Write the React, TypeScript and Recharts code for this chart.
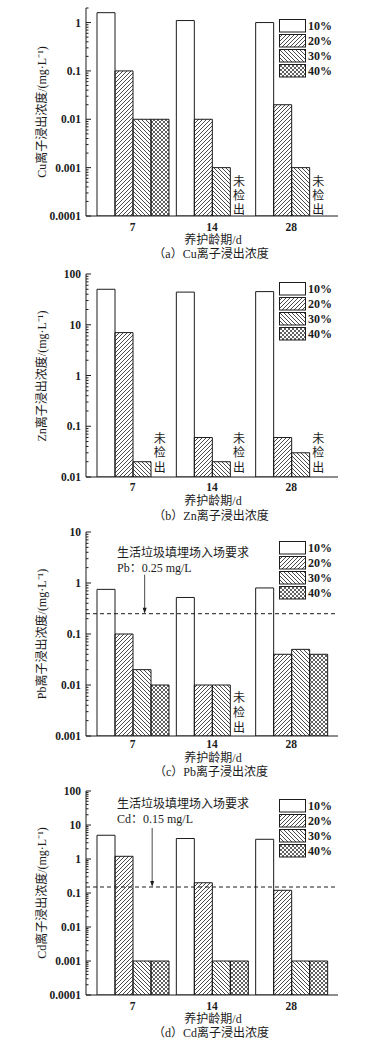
import React from "react";
import { BarChart, Bar, XAxis, YAxis, Legend, ReferenceLine, ReferenceDot } from "recharts";

// curing age (d)
const days = ["7", "14", "28"];
const seriesNames = ["10%", "20%", "30%", "40%"];

// Cu leaching concentration, mg/L (null = not detected)
const cu10 = [1.6, 1.1, 1.0];
const cu20 = [0.1, 0.01, 0.02];
const cu30 = [0.01, 0.001, 0.001];
const cu40 = [0.01, null, null];

// Zn
const zn10 = [50, 44, 45];
const zn20 = [7, 0.06, 0.06];
const zn30 = [0.02, 0.02, 0.03];
const zn40 = [null, null, null];

// Pb
const pb10 = [0.75, 0.52, 0.8];
const pb20 = [0.1, 0.01, 0.04];
const pb30 = [0.02, 0.01, 0.05];
const pb40 = [0.01, null, 0.04];

// Cd
const cd10 = [5, 4, 3.8];
const cd20 = [1.2, 0.2, 0.12];
const cd30 = [0.001, 0.001, 0.001];
const cd40 = [0.001, 0.001, 0.001];

// y tick labels
const cuTicks = [0.0001, 0.001, 0.01, 0.1, 1];
const znTicks = [0.01, 0.1, 1, 10, 100];
const pbTicks = [0.001, 0.01, 0.1, 1, 10];
const cdTicks = [0.0001, 0.001, 0.01, 0.1, 1, 10, 100];

// landfill limits
const pbLimit = 0.25;
const cdLimit = 0.15;

const W = 379;
const PLOT_LEFT = 86;
const PLOT_RIGHT = 338;
const INK = "#1c1c1c";
const SERIF = '"Liberation Serif", "Times New Roman", serif';
const CJK = '"Liberation Serif", "Noto Sans CJK SC", serif';

const keys = ["s10", "s20", "s30", "s40"];

const buildRows = (a: any[], b: any[], c: any[], d: any[]) =>
  days.map((day, i) => ({ day, s10: a[i], s20: b[i], s30: c[i], s40: d[i] }));

const withMinor = (majors: number[], max: number) => {
  const out: number[] = [];
  majors.forEach((m) => {
    out.push(m);
    for (let k = 2; k <= 9; k++) if (m * k <= max * 1.0001) out.push(m * k);
  });
  return out;
};

const Txt = ({ x, y, children, anchor = "middle", size = 12, weight = "normal", font = CJK }: any) => (
  <div
    style={{
      position: "absolute",
      left: x,
      top: y,
      transform: anchor === "middle" ? "translate(-50%,-50%)" : "translate(0,-50%)",
      fontSize: size,
      fontFamily: font,
      fontWeight: weight,
      whiteSpace: "nowrap",
      lineHeight: 1,
      color: INK,
    }}
  >
    {children}
  </div>
);

const Patterns = ({ id }: { id: string }) => (
  <defs>
    <pattern id={`${id}-p20`} patternUnits="userSpaceOnUse" width={4} height={4}>
      <path d="M-1,1 l2,-2 M0,4 l4,-4 M3,5 l2,-2" stroke={INK} strokeWidth={0.8} />
    </pattern>
    <pattern id={`${id}-p30`} patternUnits="userSpaceOnUse" width={4} height={4}>
      <path d="M-1,3 l2,2 M0,0 l4,4 M3,-1 l2,2" stroke={INK} strokeWidth={0.8} />
    </pattern>
    <pattern id={`${id}-p40`} patternUnits="userSpaceOnUse" width={4} height={4}>
      <path d="M-1,1 l2,-2 M0,4 l4,-4 M3,5 l2,-2 M-1,3 l2,2 M0,0 l4,4 M3,-1 l2,2" stroke={INK} strokeWidth={0.7} />
    </pattern>
  </defs>
);

const fillsFor = (id: string) => ["#ffffff", `url(#${id}-p20)`, `url(#${id}-p30)`, `url(#${id}-p40)`];

const Panel = ({ cfg }: any) => {
  const { id, top, bottom, domain, majors, rows, yLabel, caption, tickBase, axisLabelY, captionY, legendTop, limit, ann } = cfg;
  const padTop = 10;
  const xh = 20;
  const h = bottom - top + padTop + xh;
  const chartTop = top - padTop;
  const fills = fillsFor(id);
  const ticks = withMinor(majors, domain[1]);

  const YTick = (p: any) => {
    const v = p.payload.value;
    const major = majors.some((m: number) => Math.abs(m - v) < m * 1e-6);
    return (
      <g>
        <line x1={PLOT_LEFT} x2={PLOT_LEFT + (major ? 5 : 2.5)} y1={p.y} y2={p.y} stroke={INK} strokeWidth={1} />
        {major && (
          <text x={PLOT_LEFT - 5} y={p.y} dy={4} textAnchor="end" fontFamily={SERIF} fontSize={11.5} fontWeight="bold" fill={INK}>
            {String(v)}
          </text>
        )}
      </g>
    );
  };

  const legendContent = () => (
    <div>
      {seriesNames.map((n, i) => (
        <div key={n} style={{ display: "flex", alignItems: "center", height: 15 }}>
          <svg width={27} height={14} style={{ display: "block" }}>
            <rect x={0.5} y={0.5} width={26} height={12.5} fill={fills[i]} stroke={INK} strokeWidth={1} />
          </svg>
          <span style={{ marginLeft: 2, fontFamily: SERIF, fontSize: 12, fontWeight: "bold", color: INK, lineHeight: 1 }}>{n}</span>
        </div>
      ))}
    </div>
  );

  const notDetected = rows.filter((r: any) => r.s40 == null);

  return (
    <>
      <div style={{ position: "absolute", left: 0, top: chartTop }}>
        <BarChart
          width={W}
          height={h}
          data={rows}
          margin={{ top: padTop, right: W - PLOT_RIGHT, bottom: 0, left: PLOT_LEFT - 60 }}
          barCategoryGap={4}
          barGap={0}
        >
          <Patterns id={id} />
          <XAxis
            dataKey="day"
            height={xh}
            padding={{ left: 7, right: 7 }}
            tickLine={false}
            axisLine={{ stroke: INK, strokeWidth: 1 }}
            tick={(p: any) => (
              <text x={p.x} y={tickBase - chartTop} textAnchor="middle" fontFamily={SERIF} fontSize={11.5} fontWeight="bold" fill={INK}>
                {p.payload.value}
              </text>
            )}
          />
          <YAxis
            width={60}
            scale="log"
            type="number"
            domain={domain}
            allowDataOverflow
            ticks={ticks}
            interval={0}
            tickLine={false}
            axisLine={{ stroke: INK, strokeWidth: 1 }}
            tick={YTick}
          />
          <Legend
            layout="vertical"
            align="center"
            verticalAlign="middle"
            content={legendContent}
            wrapperStyle={{ left: 279, top: legendTop - chartTop, width: 60, height: 62 }}
          />
          {keys.map((k, i) => (
            <Bar key={k} dataKey={k} name={seriesNames[i]} fill={fills[i]} stroke={INK} strokeWidth={1} isAnimationActive={false} />
          ))}
          {limit != null && (
            <ReferenceLine y={limit} stroke={INK} strokeWidth={1} strokeDasharray="4 3" />
          )}
          {limit != null && (
            <ReferenceDot
              x="7"
              y={limit}
              ifOverflow="visible"
              shape={(p: any) => {
                const ax = p.cx + ann.dx;
                return (
                  <g>
                    <line x1={ax} x2={ax} y1={p.cy - ann.len} y2={p.cy - 4} stroke={INK} strokeWidth={0.8} />
                    <path d={`M${ax - 2},${p.cy - 6} L${ax + 2},${p.cy - 6} L${ax},${p.cy} Z`} fill={INK} />
                  </g>
                );
              }}
            />
          )}
          {notDetected.map((r: any) => (
            <ReferenceDot
              key={r.day}
              x={r.day}
              y={domain[0]}
              ifOverflow="visible"
              shape={(p: any) => (
                <g>
                  {["未", "检", "出"].map((ch, j) => (
                    <text
                      key={ch}
                      x={p.cx + 27}
                      y={p.cy - cfg.ndBase - (2 - j) * cfg.ndStep + 4.5}
                      textAnchor="middle"
                      fontFamily={CJK}
                      fontSize={12}
                      fill={INK}
                    >
                      {ch}
                    </text>
                  ))}
                </g>
              )}
            />
          ))}
        </BarChart>
      </div>
      <div
        style={{
          position: "absolute",
          left: 42,
          top: (top + bottom) / 2,
          transform: "translate(-50%,-50%) rotate(-90deg)",
          fontSize: 12,
          fontFamily: CJK,
          whiteSpace: "nowrap",
          lineHeight: 1,
          color: INK,
        }}
      >
        {yLabel}
      </div>
      <Txt x={213} y={axisLabelY}>养护龄期/d</Txt>
      <Txt x={211} y={captionY}>{caption}</Txt>
      {ann && (
        <>
          <Txt x={117} y={ann.y1} anchor="start">生活垃圾填埋场入场要求</Txt>
          <Txt x={117} y={ann.y2} anchor="start">{ann.text}</Txt>
        </>
      )}
    </>
  );
};

const panels = [
  {
    id: "cu",
    top: 8,
    bottom: 216,
    domain: [0.0001, 2],
    majors: cuTicks,
    rows: buildRows(cu10, cu20, cu30, cu40),
    yLabel: "Cu离子浸出浓度/(mg·L⁻¹)",
    caption: "（a）Cu离子浸出浓度",
    tickBase: 231,
    axisLabelY: 240,
    captionY: 254,
    legendTop: 18,
    ndBase: 7,
    ndStep: 14,
  },
  {
    id: "zn",
    top: 274,
    bottom: 477,
    domain: [0.01, 100],
    majors: znTicks,
    rows: buildRows(zn10, zn20, zn30, zn40),
    yLabel: "Zn离子浸出浓度/(mg·L⁻¹)",
    caption: "（b）Zn离子浸出浓度",
    tickBase: 490.5,
    axisLabelY: 501,
    captionY: 516,
    legendTop: 281,
    ndBase: 10,
    ndStep: 14.5,
  },
  {
    id: "pb",
    top: 532,
    bottom: 736,
    domain: [0.001, 10],
    majors: pbTicks,
    rows: buildRows(pb10, pb20, pb30, pb40),
    yLabel: "Pb离子浸出浓度/(mg·L⁻¹)",
    caption: "（c）Pb离子浸出浓度",
    tickBase: 748,
    axisLabelY: 757.5,
    captionY: 772,
    legendTop: 540,
    ndBase: 9,
    ndStep: 15,
    limit: pbLimit,
    ann: { y1: 553, y2: 568, text: "Pb：0.25 mg/L", dx: 12, len: 39 },
  },
  {
    id: "cd",
    top: 791,
    bottom: 995,
    domain: [0.0001, 100],
    majors: cdTicks,
    rows: buildRows(cd10, cd20, cd30, cd40),
    yLabel: "Cd离子浸出浓度/(mg·L⁻¹)",
    caption: "（d）Cd离子浸出浓度",
    tickBase: 1009.5,
    axisLabelY: 1019,
    captionY: 1032.5,
    legendTop: 798,
    ndBase: 9,
    ndStep: 15,
    limit: cdLimit,
    ann: { y1: 804, y2: 819, text: "Cd：0.15 mg/L", dx: 19.5, len: 59 },
  },
];

export default function App() {
  return (
    <div style={{ position: "absolute", left: 0, top: 0, width: W, height: 1048, background: "#fff", overflow: "hidden" }}>
      {panels.map((p) => (
        <Panel key={p.id} cfg={p} />
      ))}
    </div>
  );
}
